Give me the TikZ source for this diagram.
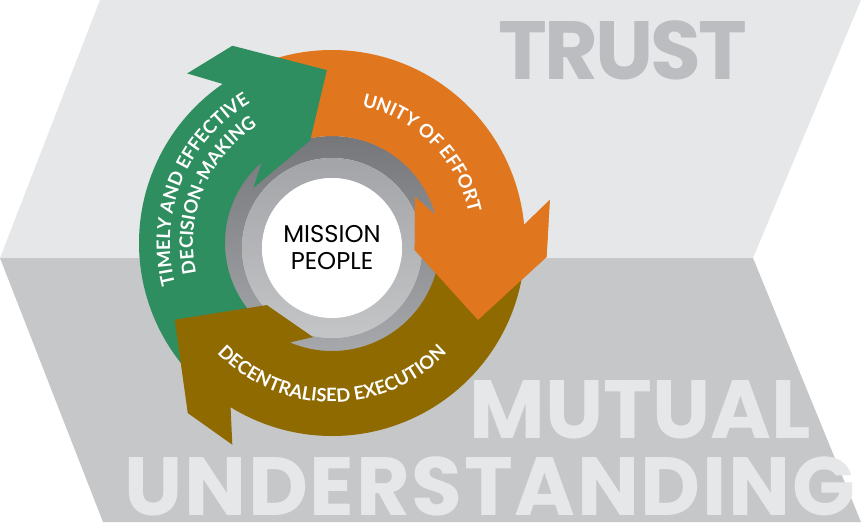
\documentclass[tikz,border=0pt]{standalone}
\usepackage{fontspec}
\setmainfont{Lato}
\newfontfamily\headfont{Poppins}
\usetikzlibrary{decorations.text}

\definecolor{bandlight}{HTML}{E6E7E8}
\definecolor{banddark}{HTML}{C6C7C9}
\definecolor{trustgray}{HTML}{BCBDC0}
\definecolor{arrgreen}{HTML}{2E8E5F}
\definecolor{arrorange}{HTML}{E0771F}
\definecolor{arrbrown}{HTML}{8F6A00}
\definecolor{ringtop}{HTML}{76777B}
\definecolor{ringbot}{HTML}{A9AAAD}
\definecolor{innertop}{HTML}{A3A4A7}
\definecolor{innerbot}{HTML}{C4C5C7}
\newcommand{\arcfont}{\bfseries\fontsize{10.5}{10.5}\selectfont}

\begin{document}
\begin{tikzpicture}[
  x=0.02cm, y=0.02cm,
  bigword/.style={anchor=base, inner sep=0pt, text depth=0pt, font=\headfont\bfseries\fontsize{47}{47}\selectfont},
  hubword/.style={anchor=base, inner sep=0pt, font=\headfont\fontsize{13.8}{13.8}\selectfont},
  arctext/.style={decorate, decoration={text along path, text align=center, text color=white, text={|\arcfont|#1}}}
]
\useasboundingbox (0,0) rectangle (861,528);

% chevron background
\fill[bandlight] (100,528) -- (861,528) -- (753,270) -- (0,270) -- cycle;
\fill[banddark] (0,270) -- (753,270) -- (861,6) -- (103,6) -- cycle;

% big words
\node[bigword, text=trustgray] (trust) at (623,448) {\addfontfeature{LetterSpace=-3.5}TRUST};
\node[bigword, text=bandlight] (mutual) at (640,90) {MUTUAL};
\node[bigword, text=bandlight] (underst) at (490,13) {\addfontfeature{LetterSpace=2}UNDERSTANDING};

% gray rings and centre
\coordinate (core) at (332,280);
\coordinate (hub) at (332,285);
\shade[even odd rule, top color=ringtop, bottom color=ringbot] (core) circle[radius=112] (core) circle[radius=90];
\shade[even odd rule, top color=innertop, bottom color=innerbot] (core) circle[radius=90] (core) circle[radius=70];
\fill[white] (core) circle[radius=70];

% arrows round the hub
\begin{scope}[shift={(hub)}]
\fill[arrorange] (115:193) arc[start angle=115, end angle=5.4, radius=193] -- (11.2:222) -- (-3.7:215)
  -- (-27.8:165) -- (-4.8:83) -- (29:95) -- (15.2:107) arc[start angle=15.2, end angle=115, radius=107] -- cycle;
\fill[arrgreen] (235:193) arc[start angle=235, end angle=124.5, radius=193] -- (130.5:223) -- (116.8:221)
  -- (91.7:173) -- (102:105) -- (145:96) -- (131:107) arc[start angle=131, end angle=235, radius=107] -- cycle;
\fill[arrbrown] (355:193) arc[start angle=355, end angle=238.3, radius=193] -- (243.7:225) -- (229.7:223)
  -- (206:175) -- (223.6:90) -- (258.6:96) -- (247:108) arc[start angle=247, end angle=355, radius=108] -- cycle;
% orange head sits on the brown tail
\fill[arrorange] (5.4:193) -- (11.2:222) -- (-3.7:215) -- (-27.8:165) -- (-4.8:83) -- (29:95) -- (15.2:107) -- cycle;

% labels on the arrows
\path[arctext={TIMELY AND EFFECTIVE}] (205:162) arc[start angle=205, end angle=110, radius=162];
\path[arctext={DECISION-MAKING}] (205:139) arc[start angle=205, end angle=110, radius=139];
\path[arctext={UNITY OF EFFORT}] (95:140) arc[start angle=95, end angle=-5, radius=140];
\path[arctext={DECENTRALISED EXECUTION}] (215:159) arc[start angle=215, end angle=325, radius=159];
\end{scope}

\node[hubword] (mission) at (332,286) {MISSION};
\node[hubword] (people) at (332,259) {PEOPLE};

\end{tikzpicture}
\end{document}
